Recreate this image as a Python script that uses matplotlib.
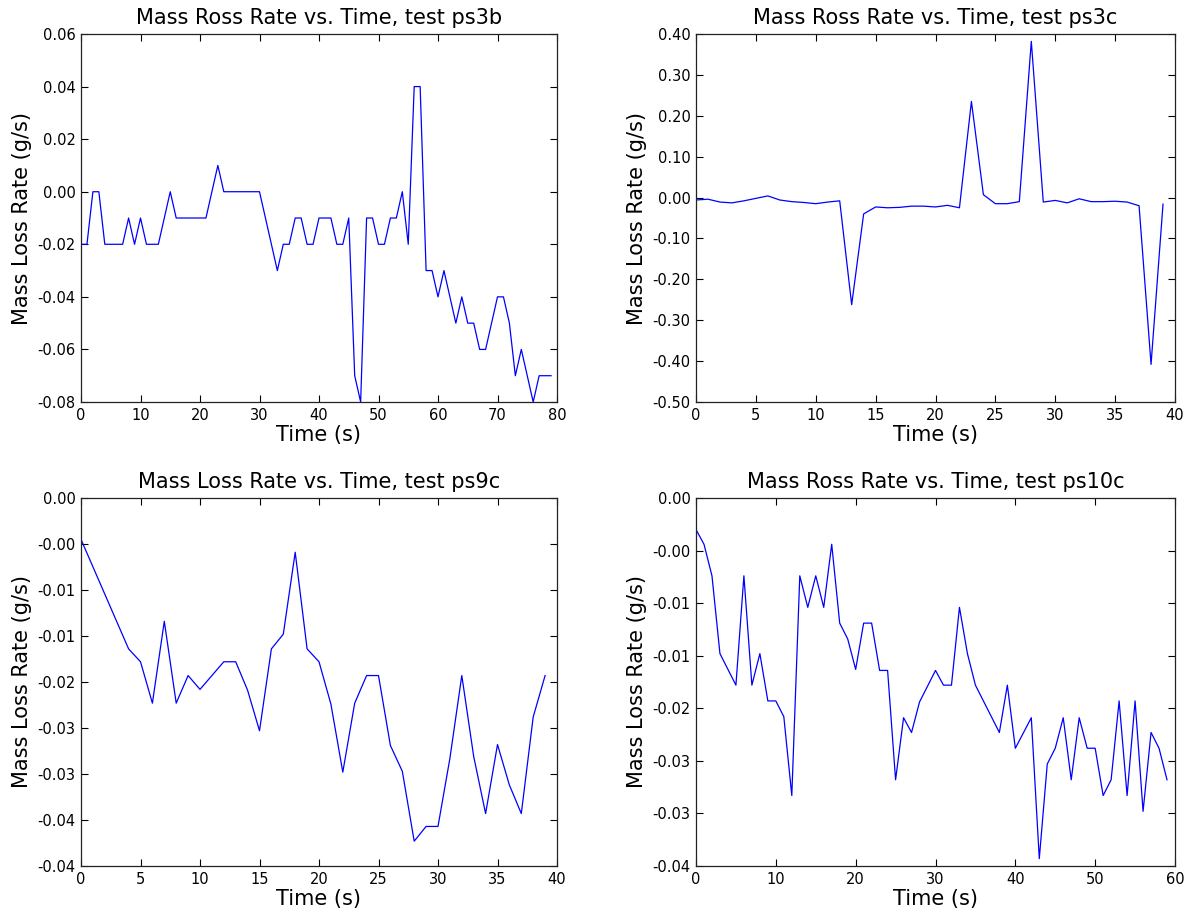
import matplotlib
matplotlib.use("Agg")
import matplotlib.pyplot as plt
from matplotlib.ticker import FormatStrFormatter, FixedLocator, FixedFormatter, MultipleLocator

plt.rcParams['font.family'] = ['DejaVu Sans']
plt.rcParams['axes.unicode_minus'] = False

# ---- data ----
t_ps3b = list(range(0, 80))
v_ps3b = [-0.02, -0.02, 0.00, 0.00, -0.02, -0.02, -0.02, -0.02, -0.01, -0.02,
          -0.01, -0.02, -0.02, -0.02, -0.01, 0.00, -0.01, -0.01, -0.01, -0.01,
          -0.01, -0.01, 0.00, 0.01, 0.00, 0.00, 0.00, 0.00, 0.00, 0.00,
          0.00, -0.01, -0.02, -0.03, -0.02, -0.02, -0.01, -0.01, -0.02, -0.02,
          -0.01, -0.01, -0.01, -0.02, -0.02, -0.01, -0.07, -0.08, -0.01, -0.01,
          -0.02, -0.02, -0.01, -0.01, 0.00, -0.02, 0.04, 0.04, -0.03, -0.03,
          -0.04, -0.03, -0.04, -0.05, -0.04, -0.05, -0.05, -0.06, -0.06, -0.05,
          -0.04, -0.04, -0.05, -0.07, -0.06, -0.07, -0.08, -0.07, -0.07, -0.07]

t_ps3c = list(range(0, 40))
v_ps3c = [-0.006, -0.004, -0.011, -0.013, -0.008, -0.002, 0.004, -0.006, -0.010, -0.012,
          -0.015, -0.011, -0.008, -0.262, -0.040, -0.023, -0.025, -0.024, -0.021, -0.021,
          -0.023, -0.019, -0.025, 0.235, 0.007, -0.015, -0.015, -0.010, 0.382, -0.011,
          -0.007, -0.013, -0.003, -0.010, -0.010, -0.009, -0.011, -0.020, -0.408, -0.016]

t_ps9c = [0, 4, 5, 6, 7, 8, 9, 10, 12, 13, 14, 15, 16, 17, 18, 19, 20, 21, 22, 23,
          24, 25, 26, 27, 28, 29, 30, 31, 32, 33, 34, 35, 36, 37, 38, 39]
v_ps9c = [-0.0045, -0.0164, -0.0178, -0.0223, -0.0134, -0.0223, -0.0193, -0.0208,
          -0.0178, -0.0178, -0.0209, -0.0253, -0.0164, -0.0148, -0.0059, -0.0164,
          -0.0178, -0.0224, -0.0298, -0.0223, -0.0193, -0.0193, -0.0269, -0.0297,
          -0.0373, -0.0357, -0.0357, -0.0283, -0.0193, -0.0281, -0.0343, -0.0268,
          -0.0312, -0.0343, -0.0238, -0.0193]

t_ps10c = [0, 1, 2, 3, 5, 6, 7, 8, 9, 10, 11, 12, 13, 14, 15, 16, 17, 18, 19, 20,
           21, 22, 23, 24, 25, 26, 27, 28, 30, 31, 32, 33, 34, 35, 38, 39, 40, 42,
           43, 44, 45, 46, 47, 48, 49, 50, 51, 52, 53, 54, 55, 56, 57, 58, 59]
v_ps10c = [-0.0030, -0.0044, -0.0074, -0.0148, -0.0178, -0.0074, -0.0178, -0.0148,
           -0.0193, -0.0193, -0.0208, -0.0283, -0.0074, -0.0104, -0.0074, -0.0104,
           -0.0044, -0.0119, -0.0134, -0.0163, -0.0119, -0.0119, -0.0164, -0.0164,
           -0.0268, -0.0209, -0.0223, -0.0194, -0.0164, -0.0178, -0.0178, -0.0104,
           -0.0148, -0.0178, -0.0223, -0.0178, -0.0238, -0.0209, -0.0343, -0.0253,
           -0.0238, -0.0209, -0.0268, -0.0209, -0.0238, -0.0238, -0.0283, -0.0268,
           -0.0193, -0.0283, -0.0193, -0.0298, -0.0223, -0.0238, -0.0268]

titles = ["Mass Ross Rate vs. Time, test ps3b",
          "Mass Ross Rate vs. Time, test ps3c",
          "Mass Loss Rate vs. Time, test ps9c",
          "Mass Ross Rate vs. Time, test ps10c"]
xlabel = "Time (s)"
ylabel = "Mass Loss Rate (g/s)"

yticks_ps9c = [0.0, -0.005, -0.010, -0.015, -0.020, -0.025, -0.030, -0.035, -0.040]
ylabels_ps9c = ["0.00", "-0.00", "-0.01", "-0.01", "-0.02", "-0.03", "-0.03", "-0.04", "-0.04"]
yticks_ps10c = [0.0, -0.005, -0.010, -0.015, -0.020, -0.025, -0.030, -0.035]
ylabels_ps10c = ["0.00", "-0.00", "-0.01", "-0.01", "-0.02", "-0.03", "-0.03", "-0.04"]

# ---- figure ----
W, H = 1193, 913
fig = plt.figure(figsize=(W / 100, H / 100), dpi=100)
fig.patch.set_facecolor('white')

def ax_at(left, top, right, bottom):
    return fig.add_axes([left / W, 1 - bottom / H, (right - left) / W, (bottom - top) / H])

ax1 = ax_at(81, 34, 557, 402)
ax2 = ax_at(696, 34, 1175, 402)
ax3 = ax_at(81, 498, 557, 866)
ax4 = ax_at(696, 498, 1175, 866)

series = [(ax1, t_ps3b, v_ps3b), (ax2, t_ps3c, v_ps3c),
          (ax3, t_ps9c, v_ps9c), (ax4, t_ps10c, v_ps10c)]

for (ax, t, v), title in zip(series, titles):
    ax.plot(t, v, color='#0000ff', linewidth=0.9)
    ax.set_title(title, fontsize=15, pad=7)
    ax.set_xlabel(xlabel, fontsize=15, labelpad=2)
    ax.set_ylabel(ylabel, fontsize=15, labelpad=4)
    ax.tick_params(direction='in', top=True, right=True, length=5, width=0.8,
                   labelsize=10.5, pad=4)
    for s in ax.spines.values():
        s.set_linewidth(0.9)
        s.set_color('#222222')

ax1.set_xlim(0, 80)
ax1.set_ylim(-0.08, 0.06)
ax1.xaxis.set_major_locator(MultipleLocator(10))
ax1.yaxis.set_major_locator(MultipleLocator(0.02))
ax1.yaxis.set_major_formatter(FormatStrFormatter('%.2f'))

ax2.set_xlim(0, 40)
ax2.set_ylim(-0.5, 0.4)
ax2.xaxis.set_major_locator(MultipleLocator(5))
ax2.yaxis.set_major_locator(MultipleLocator(0.1))
ax2.yaxis.set_major_formatter(FormatStrFormatter('%.2f'))

ax3.set_xlim(0, 40)
ax3.set_ylim(-0.04, 0.0)
ax3.xaxis.set_major_locator(MultipleLocator(5))
ax3.yaxis.set_major_locator(FixedLocator(yticks_ps9c))
ax3.yaxis.set_major_formatter(FixedFormatter(ylabels_ps9c))

ax4.set_xlim(0, 60)
ax4.set_ylim(-0.035, 0.0)
ax4.xaxis.set_major_locator(MultipleLocator(10))
ax4.yaxis.set_major_locator(FixedLocator(yticks_ps10c))
ax4.yaxis.set_major_formatter(FixedFormatter(ylabels_ps10c))

fig.savefig("out.png", dpi=100, facecolor='white')
